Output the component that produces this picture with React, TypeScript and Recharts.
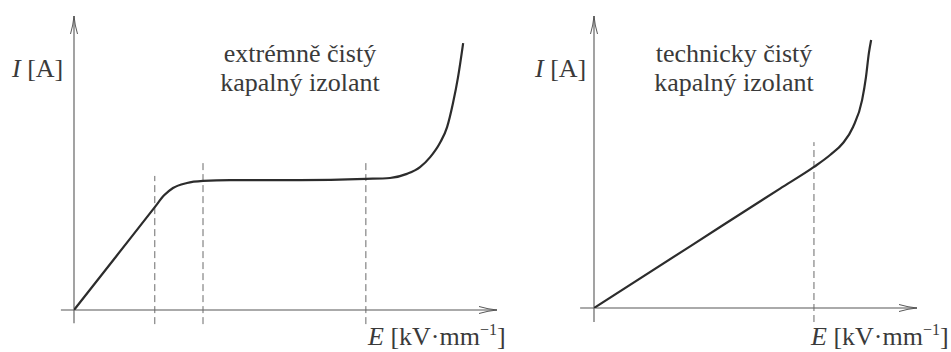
import React from 'react';
import { LineChart, Line, XAxis, YAxis, ReferenceLine } from 'recharts';

// Left panel: extremely pure liquid insulator (field E vs current I, relative units)
const pureE = [0, 10, 19.1, 21.3, 23.4, 26.7, 30.5, 36.9, 53.4, 69.0, 74.7, 78.7, 81.8, 84.2, 86.5, 88.2, 89.6, 90.8, 92.0];
const pureI = [0, 18.3, 35.0, 39.0, 41.5, 43.2, 43.9, 44.2, 44.2, 44.6, 44.9, 46.3, 48.6, 52.0, 56.8, 62.2, 70.4, 79.3, 90.8];
// Boundaries between regions of the characteristic
const pureBounds = [19.1, 30.5, 69.0];
const pureBoundTops = [45.6, 51.0, 51.0];

// Right panel: technically pure liquid insulator
const techE = [0, 30, 57.6, 68.1, 73.1, 77.1, 80.2, 83.0, 84.2, 85.1, 85.8];
const techI = [0, 21.3, 40.9, 48.3, 52.4, 56.5, 62.0, 71.2, 79.1, 87.3, 91.8];
const techBounds = [68.1];
const techBoundTops = [56.8];

const pureTitle = ['extrémně čistý', 'kapalný izolant'];
const techTitle = ['technicky čistý', 'kapalný izolant'];

const pureData = pureE.map((e, i) => ({ e, i: pureI[i] }));
const techData = techE.map((e, i) => ({ e, i: techI[i] }));

const FONT = "'Liberation Serif', 'DejaVu Serif', serif";
const TEXT = '#3a3a3a';
const AXIS = '#575757';
const CURVE = '#2c2c2c';
const DASH = '#6a6a6a';

const textStyle: React.CSSProperties = { fontFamily: FONT, fontSize: 26, fill: TEXT };

function ArrowDefs({ id }: { id: string }) {
  return (
    <defs>
      <marker
        id={id}
        markerWidth={20}
        markerHeight={10}
        viewBox="0 0 20 10"
        refX={18}
        refY={5}
        orient="auto"
        markerUnits="userSpaceOnUse"
      >
        <path d="M0,1.5 Q9,4.2 18,5 Q9,5.8 0,8.5" fill="none" stroke={AXIS} strokeWidth={1} />
      </marker>
    </defs>
  );
}

function AxisLabels({ ix, ex }: { ix: number; ex: number }) {
  return (
    <g>
      <text x={ix} y={77} style={textStyle}>
        <tspan style={{ fontStyle: 'italic' }}>I</tspan>
        {' [A]'}
      </text>
      <text x={ex} y={345} style={textStyle}>
        <tspan style={{ fontStyle: 'italic' }}>E</tspan>
        {' [kV·mm'}
        <tspan style={{ fontSize: 16 }} dy={-10}>−1</tspan>
        <tspan dy={10}>]</tspan>
      </text>
    </g>
  );
}

function Title({ cx, lines }: { cx: number; lines: string[] }) {
  return (
    <g>
      {lines.map((t, k) => (
        <text key={k} x={cx} y={62 + k * 29} textAnchor="middle" style={textStyle}>
          {t}
        </text>
      ))}
    </g>
  );
}

export default function App() {
  return (
    <div style={{ position: 'absolute', left: 0, top: 0, width: 951, height: 352, background: '#fff' }}>
      <div style={{ position: 'absolute', left: 0, top: 0 }}>
        <LineChart width={951} height={352} data={pureData} margin={{ left: 74, right: 454, top: 16, bottom: 42 }}>
          <ArrowDefs id="arrowPure" />
          <XAxis type="number" dataKey="e" domain={[0, 100]} hide allowDataOverflow />
          <YAxis type="number" dataKey="i" domain={[0, 100]} hide allowDataOverflow />
          <ReferenceLine
            segment={[{ x: -3.1, y: 0 }, { x: 100, y: 0 }]}
            stroke={AXIS}
            strokeWidth={1.1}
            ifOverflow="visible"
            markerEnd="url(#arrowPure)"
          />
          <ReferenceLine
            segment={[{ x: 0, y: -4.5 }, { x: 0, y: 100 }]}
            stroke={AXIS}
            strokeWidth={1.1}
            ifOverflow="visible"
            markerEnd="url(#arrowPure)"
          />
          {pureBounds.map((b, k) => (
            <ReferenceLine
              key={k}
              segment={[{ x: b, y: -4.8 }, { x: b, y: pureBoundTops[k] }]}
              stroke={DASH}
              strokeWidth={1}
              strokeDasharray="7 4"
              ifOverflow="visible"
            />
          ))}
          <Line
            type="monotone"
            dataKey="i"
            stroke={CURVE}
            strokeWidth={2.2}
            dot={false}
            isAnimationActive={false}
          />
          <Title cx={300} lines={pureTitle} />
          <AxisLabels ix={12} ex={368} />
        </LineChart>
      </div>
      <div style={{ position: 'absolute', left: 0, top: 0 }}>
        <LineChart width={951} height={352} data={techData} margin={{ left: 594, right: 34, top: 16, bottom: 44 }}>
          <ArrowDefs id="arrowTech" />
          <XAxis type="number" dataKey="e" domain={[0, 100]} hide allowDataOverflow />
          <YAxis type="number" dataKey="i" domain={[0, 100]} hide allowDataOverflow />
          <ReferenceLine
            segment={[{ x: -4.3, y: 0 }, { x: 100, y: 0 }]}
            stroke={AXIS}
            strokeWidth={1.1}
            ifOverflow="visible"
            markerEnd="url(#arrowTech)"
          />
          <ReferenceLine
            segment={[{ x: 0, y: -4.8 }, { x: 0, y: 100 }]}
            stroke={AXIS}
            strokeWidth={1.1}
            ifOverflow="visible"
            markerEnd="url(#arrowTech)"
          />
          {techBounds.map((b, k) => (
            <ReferenceLine
              key={k}
              segment={[{ x: b, y: -4.8 }, { x: b, y: techBoundTops[k] }]}
              stroke={DASH}
              strokeWidth={1}
              strokeDasharray="7 4"
              ifOverflow="visible"
            />
          ))}
          <Line
            type="monotone"
            dataKey="i"
            stroke={CURVE}
            strokeWidth={2.2}
            dot={false}
            isAnimationActive={false}
          />
          <Title cx={734} lines={techTitle} />
          <AxisLabels ix={535} ex={811} />
        </LineChart>
      </div>
    </div>
  );
}
